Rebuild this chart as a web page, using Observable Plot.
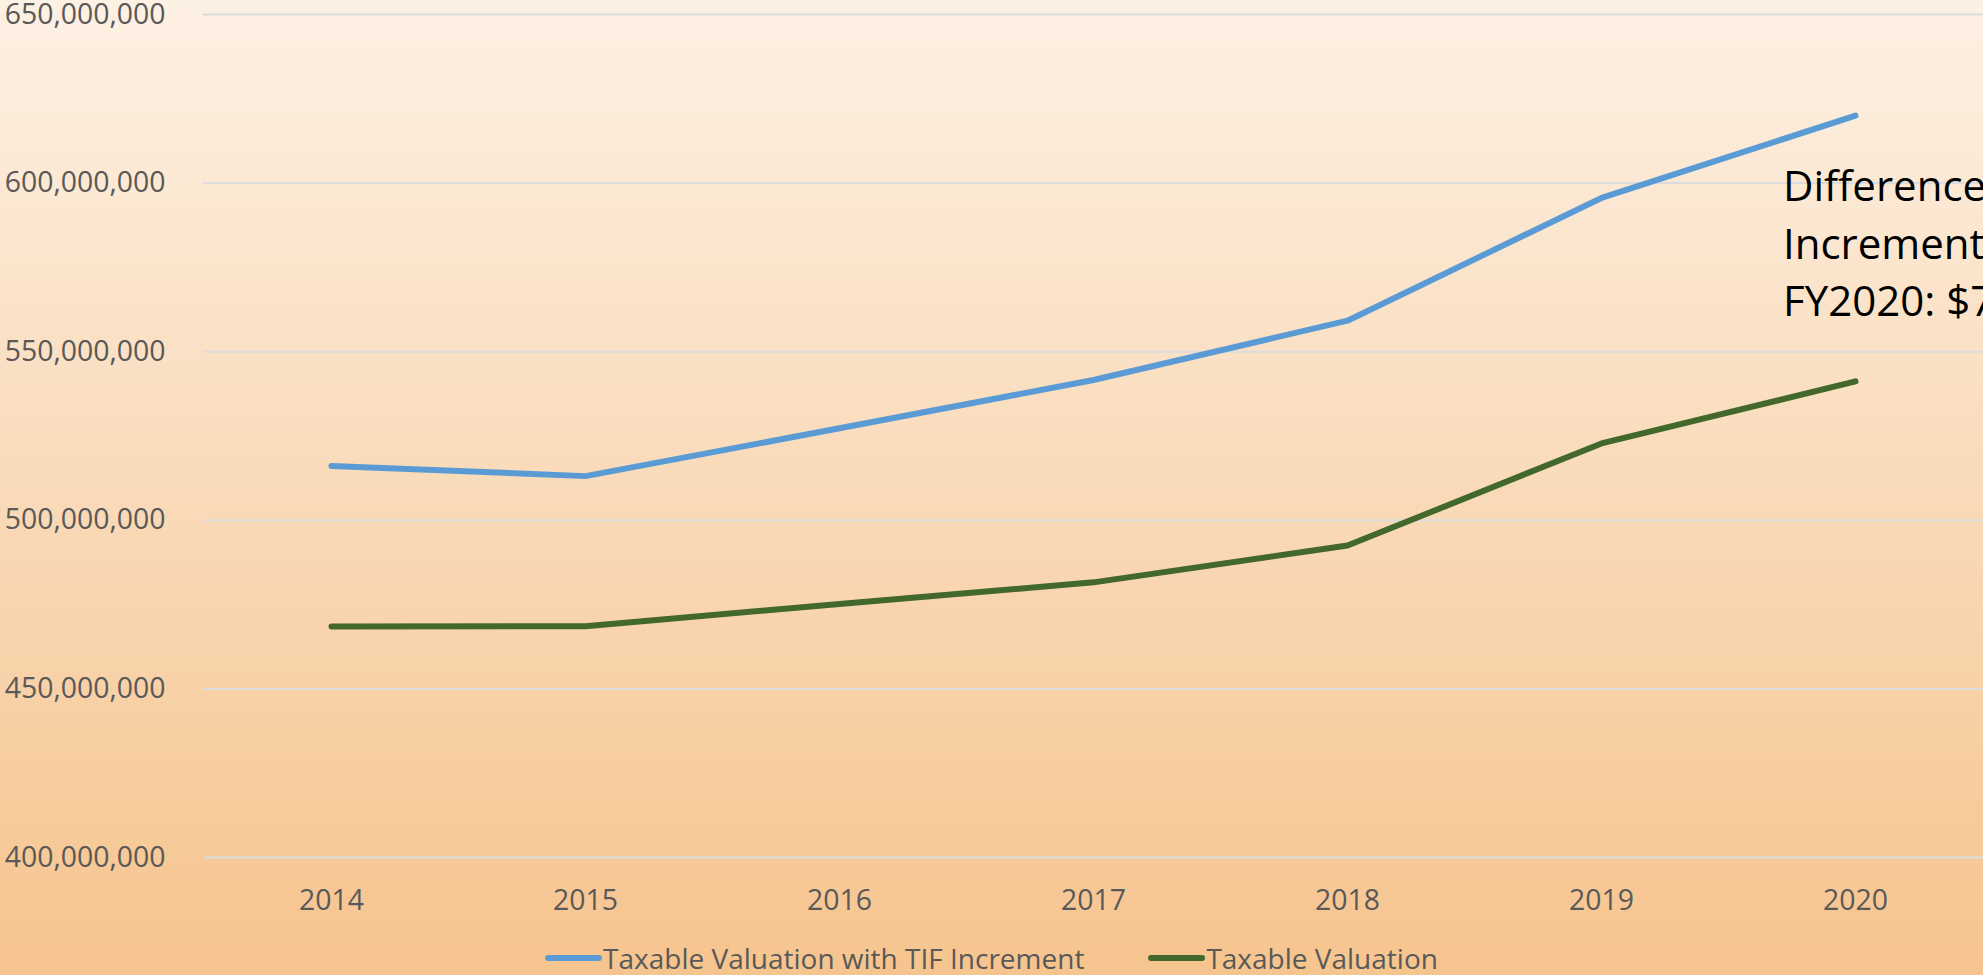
<!DOCTYPE html>
<html>
<head>
<meta charset="utf-8">
<script src="https://cdn.jsdelivr.net/npm/d3@7"></script>
<script src="https://cdn.jsdelivr.net/npm/@observablehq/plot@0.6"></script>
<style>
  html, body { margin: 0; padding: 0; }
  body {
    width: 1983px; height: 975px; overflow: hidden; position: relative;
    background: linear-gradient(#FDF1E4, #F6C48E);
    font-family: "Open Sans", sans-serif;
  }
  #chart { position: absolute; left: 0; top: 0; }
  #note {
    position: absolute; left: 1783px; top: 156px;
    font-size: 42px; line-height: 57.5px; color: #000; white-space: pre;
  }
  #legend {
    position: absolute; left: 0; top: 938px; width: 1983px; height: 40px;
    display: flex; justify-content: center; align-items: center; gap: 64px;
    font-size: 28px; color: #595959;
  }
  .item { display: flex; align-items: center; }
  .sw { display: inline-block; width: 57px; height: 6px; border-radius: 3px; margin-right: 1px; }
</style>
</head>
<body>
<div id="chart"></div>
<div id="note"></div>
<div id="legend"></div>
<script>
const years = ["2014", "2015", "2016", "2017", "2018", "2019", "2020"];
const withTIF = [516.1e6, 513.1e6, 527.3e6, 541.6e6, 559.2e6, 595.6e6, 620.0e6];
const taxable = [468.5e6, 468.6e6, 475.2e6, 481.6e6, 492.5e6, 522.8e6, 541.2e6];
const yTicks = [400e6, 450e6, 500e6, 550e6, 600e6, 650e6];
const seriesNames = ["Taxable Valuation with TIF Increment", "Taxable Valuation"];
const seriesColors = ["#5B9BD5", "#43682B"];
const noteLines = ["Difference", "Increment", "FY2020: $7"];

const rowsTIF = years.map((y, i) => ({year: y, value: withTIF[i]}));
const rowsTax = years.map((y, i) => ({year: y, value: taxable[i]}));
const fmt = d3.format(",");

const chart = Plot.plot({
  width: 1983,
  height: 935,
  marginLeft: 203,
  marginRight: 0,
  marginTop: 14,
  marginBottom: 78,
  style: {background: "transparent", fontFamily: "Open Sans", fontSize: "28.4px", color: "#595959"},
  x: {type: "point", domain: years, padding: 0.5, label: null},
  y: {domain: [400e6, 650e6], label: null},
  marks: [
    Plot.gridY(yTicks, {stroke: "#DADCE0", strokeOpacity: 1, strokeWidth: 2}),
    Plot.axisY(yTicks, {tickSize: 0, tickPadding: 38, tickFormat: fmt, label: null}),
    Plot.axisX({tickSize: 0, tickPadding: 32, label: null}),
    Plot.line(rowsTIF, {x: "year", y: "value", stroke: seriesColors[0], strokeWidth: 6, strokeLinecap: "round", strokeLinejoin: "round"}),
    Plot.line(rowsTax, {x: "year", y: "value", stroke: seriesColors[1], strokeWidth: 6, strokeLinecap: "round", strokeLinejoin: "round"})
  ]
});
document.getElementById("chart").append(chart);

document.getElementById("note").textContent = noteLines.join("\n");

const legend = document.getElementById("legend");
seriesNames.forEach((name, i) => {
  const item = document.createElement("div");
  item.className = "item";
  const sw = document.createElement("span");
  sw.className = "sw";
  sw.style.background = seriesColors[i];
  const t = document.createElement("span");
  t.textContent = name;
  item.append(sw, t);
  legend.append(item);
});
</script>
</body>
</html>
